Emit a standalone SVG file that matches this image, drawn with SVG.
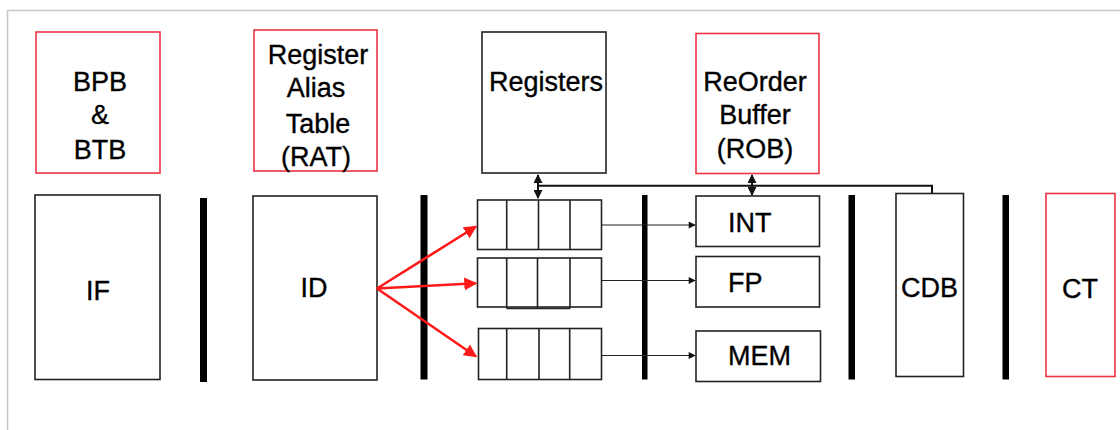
<svg xmlns="http://www.w3.org/2000/svg" width="1120" height="430" viewBox="0 0 1120 430">
<defs>
<style>
.t{font-family:"Liberation Sans",Arial,sans-serif;font-size:27px;fill:#000;stroke:#000;stroke-width:0.35;text-anchor:middle}
.tl{font-family:"Liberation Sans",Arial,sans-serif;font-size:27px;fill:#000;stroke:#000;stroke-width:0.35}
.bx{fill:#fff;stroke:#222;stroke-width:1.6}
.rb{fill:#fff;stroke:#ee3344;stroke-width:1.6}
.bar{fill:#000}
.cell{fill:none;stroke:#222;stroke-width:1.6}
.red{stroke:#ff1a1a;stroke-width:2.6;fill:none}
.blk{stroke:#222;stroke-width:1;fill:none}
.bus{stroke:#111;stroke-width:2;fill:none}
</style>
<marker id="ra" viewBox="0 0 10 10" refX="9" refY="5" markerWidth="5" markerHeight="5" orient="auto" markerUnits="strokeWidth"><path d="M0,0 L10,5 L0,10 z" fill="#ff1a1a"/></marker>
<marker id="ba" viewBox="0 0 10 10" refX="9" refY="5" markerWidth="8" markerHeight="7" orient="auto" markerUnits="strokeWidth"><path d="M0,0 L10,5 L0,10 z" fill="#111"/></marker>
<marker id="da" viewBox="0 0 10 10" refX="9" refY="5" markerWidth="4.5" markerHeight="4.5" orient="auto-start-reverse" markerUnits="strokeWidth"><path d="M0,0 L10,5 L0,10 z" fill="#111"/></marker>
</defs>
<rect width="1120" height="430" fill="#fff"/>
<path d="M7.5,430 V10.5 H1120" fill="none" stroke="#c8c8c8" stroke-width="1.5"/>

<g id="bpb"><rect class="rb" x="36" y="32" width="124" height="141"/><text class="t" x="100" y="91">BPB</text><text class="t" x="100" y="124">&amp;</text><text class="t" x="100" y="159">BTB</text></g>
<g id="rat"><rect class="rb" x="254" y="30" width="123" height="141"/><text class="t" x="318" y="64">Register</text><text class="t" x="316" y="97">Alias</text><text class="t" x="318" y="133">Table</text><text class="t" x="316" y="166">(RAT)</text></g>
<g id="regs"><rect class="bx" x="482" y="32" width="124" height="141"/><text class="t" x="546" y="91">Registers</text></g>
<g id="rob"><rect class="rb" x="696" y="33.5" width="123" height="140"/><text class="t" x="755" y="91">ReOrder</text><text class="t" x="755" y="124">Buffer</text><text class="t" x="755" y="158">(ROB)</text></g>

<g id="if"><rect class="bx" x="35" y="195" width="125" height="184.5"/><text class="t" x="98" y="300">IF</text></g>
<g id="id"><rect class="bx" x="253" y="196" width="124" height="184"/><text class="t" x="314" y="297">ID</text></g>

<g id="latches">
<rect class="bar" x="200" y="198" width="7" height="184"/>
<rect class="bar" x="420.5" y="195" width="7" height="184.5"/>
<rect class="bar" x="642" y="195" width="5.5" height="184.5"/>
<rect class="bar" x="848.5" y="195" width="6.5" height="184.5"/>
<rect class="bar" x="1002.5" y="195" width="6.5" height="184.5"/>
</g>

<g id="q1"><rect class="bx" x="477.5" y="200" width="124" height="49.5"/><path class="cell" d="M506.7,200V249.5M538.5,200V249.5M570,200V249.5"/></g>
<g id="q2"><rect class="bx" x="477.5" y="258" width="124" height="49"/><path class="cell" d="M506.7,258V308.5M537.5,258V308.5M570,258V308.5M506.7,308.5H570"/></g>
<g id="q3"><rect class="bx" x="478.5" y="328.5" width="123" height="51"/><path class="cell" d="M506.7,328.5V379.5M539,328.5V379.5M569.7,328.5V379.5"/></g>

<g id="int"><rect class="bx" x="696" y="196" width="123.5" height="50.5"/><text class="tl" x="728" y="231.5">INT</text></g>
<g id="fp"><rect class="bx" x="696" y="256.5" width="123.5" height="50.5"/><text class="tl" x="728" y="291.5">FP</text></g>
<g id="mem"><rect class="bx" x="696" y="331" width="124.5" height="50.5"/><text class="tl" x="728" y="365">MEM</text></g>

<g id="cdb"><rect class="bx" x="896" y="193.5" width="67.5" height="183"/><text class="t" x="929.5" y="297">CDB</text></g>
<g id="ct"><rect class="rb" x="1046" y="193.5" width="69" height="183"/><text class="t" x="1080" y="298">CT</text></g>

<g id="connectors">
<path class="red" d="M377,288.5 L476,226.5" marker-end="url(#ra)"/>
<path class="red" d="M377,288.5 L476,283.3" marker-end="url(#ra)"/>
<path class="red" d="M377,288.5 L476,356.5" marker-end="url(#ra)"/>
<path class="blk" d="M601.5,225 H695" marker-end="url(#ba)"/>
<path class="blk" d="M601.5,280.5 H695" marker-end="url(#ba)"/>
<path class="blk" d="M601.5,355.5 H695" marker-end="url(#ba)"/>
<path class="bus" d="M538,185.7 H932 V193.5"/>
<path class="bus" d="M538,175 V198" marker-start="url(#da)" marker-end="url(#da)"/>
<path class="bus" d="M752,175 V195" marker-start="url(#da)" marker-end="url(#da)"/>
</g>
</svg>
